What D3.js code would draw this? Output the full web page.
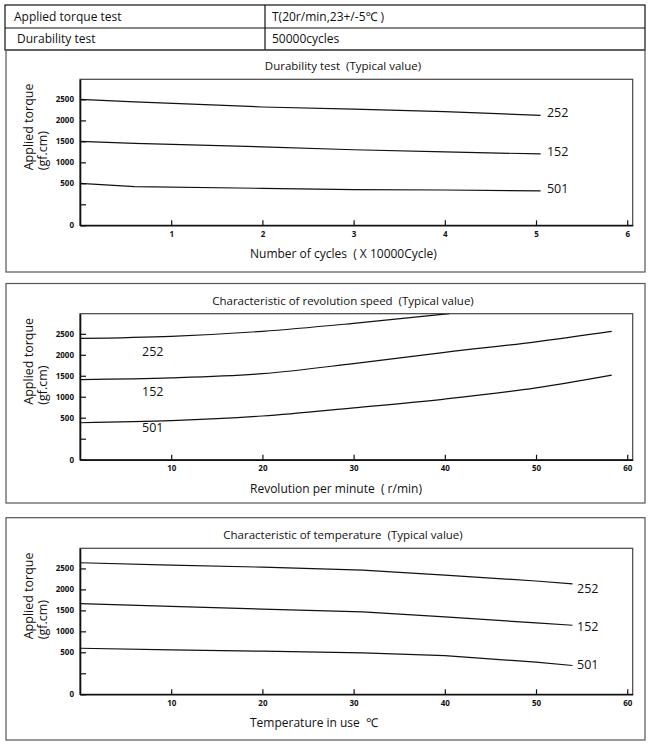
<!DOCTYPE html>
<html><head><meta charset="utf-8">
<script src="https://cdn.jsdelivr.net/npm/d3@7"></script>
<style>
body{margin:0;background:#fff;}
text{font-family:"Open Sans","Noto Sans",sans-serif;fill:#111;white-space:pre;}
</style></head><body>
<svg id="c" width="650" height="749"></svg>
<script>
// ---------- data ----------
const tableRows = [
  ["Applied torque test", "T(20r/min,23+/-5℃ )"],
  ["Durability test", "50000cycles"]
];
const seriesNames = ["252", "152", "501"];
const yTickValues = [0, 250, 500, 1000, 1500, 2000, 2500];
const yTickLabels = ["0", "", "500", "1000", "1500", "2000", "2500"];

// Chart 1: Durability test
const cyclesX = [0, 0.6, 2, 3, 4, 5.05];
const cycles252 = [2500, 2440, 2320, 2270, 2210, 2120];
const cycles152 = [1500, 1450, 1370, 1300, 1250, 1200];
const cycles501 = [500, 460, 440, 425, 420, 410];
const cyclesTicks = [1, 2, 3, 4, 5, 6];

// Chart 2: revolution speed
const rpmX252 = [0, 10, 20, 30, 40.5];
const rpm252 = [2390, 2440, 2560, 2750, 2980];
const rpmX = [0, 10, 20, 30, 40, 50, 58.3];
const rpm152 = [1410, 1450, 1550, 1790, 2060, 2310, 2560];
const rpm501 = [440, 465, 540, 735, 945, 1210, 1515];
const rpmTicks = [10, 20, 30, 40, 50, 60];
const rpmLabelX = [6.8, 6.8, 6.8];
const rpmLabelY = [2070, 1128, 382];

// Chart 3: temperature
const tempX = [0, 10, 20, 31, 40, 50, 54];
const temp252 = [2635, 2580, 2530, 2460, 2340, 2200, 2130];
const temp152 = [1660, 1595, 1530, 1465, 1345, 1200, 1145];
const temp501 = [597, 560, 527, 493, 460, 382, 343];
const tempTicks = [10, 20, 30, 40, 50, 60];
const tempLabelX = [54.5, 54.5, 54.5];
const tempLabelY = [2014, 1104, 355];

// ---------- drawing ----------
const svg = d3.select("#c");
const L = 5, R = 645;

// table
const tbl = svg.append("g");
const rowY = [5, 28, 50];
tbl.append("rect").attr("x", L).attr("y", 5).attr("width", R - L).attr("height", 45)
  .attr("fill", "none").attr("stroke", "#111").attr("stroke-width", 1.2);
tbl.append("line").attr("x1", L).attr("x2", R).attr("y1", 28).attr("y2", 28).attr("stroke", "#111").attr("stroke-width", 1.2);
tbl.append("line").attr("x1", 265).attr("x2", 265).attr("y1", 5).attr("y2", 50).attr("stroke", "#111").attr("stroke-width", 1.2);
tableRows.forEach((r, i) => {
  const cy = (rowY[i] + rowY[i + 1]) / 2 + 4;
  tbl.append("text").attr("x", i === 0 ? 14 : 17).attr("y", cy).attr("font-size", 12).text(r[0]);
  tbl.append("text").attr("x", 272).attr("y", cy).attr("font-size", 12).text(r[1]);
});

function drawChart(cfg) {
  const g = svg.append("g");
  // panel box
  g.append("rect").attr("x", L + 1).attr("y", cfg.panelTop).attr("width", R - L - 1)
    .attr("height", cfg.panelBottom - cfg.panelTop)
    .attr("fill", "none").attr("stroke", "#555").attr("stroke-width", 1.2);

  const left = 80, right = 632.7, top = cfg.top, bottom = cfg.top + 146;
  const x = d3.scaleLinear().domain([0, cfg.xMax]).range([left, right]);
  const y = d3.scaleLinear().domain([0, 500, 2980]).range([bottom, bottom - 42, top]);

  // title
  g.append("text").attr("x", 343).attr("y", top - 9).attr("text-anchor", "middle")
    .attr("font-size", 11.5).text(cfg.title);

  // plot frame
  g.append("rect").attr("x", left).attr("y", top).attr("width", right - left).attr("height", bottom - top)
    .attr("fill", "none").attr("stroke", "#444").attr("stroke-width", 1.2);

  const clipId = "clip" + cfg.id;
  g.append("clipPath").attr("id", clipId).append("rect")
    .attr("x", left).attr("y", top).attr("width", right - left).attr("height", bottom - top);

  // axes
  const xa = g.append("g").attr("transform", `translate(0,${bottom})`)
    .call(d3.axisBottom(x).tickValues(cfg.ticks).tickSizeInner(-5).tickSizeOuter(0).tickPadding(6)
      .tickFormat(d3.format("d")));
  xa.select(".domain").attr("stroke", "#111").attr("stroke-width", 1.6);
  xa.selectAll(".tick line").attr("stroke", "#111").attr("stroke-width", 1.2);
  xa.selectAll(".tick text").attr("font-size", 8).attr("font-weight", "bold").attr("fill", "#111")
    .attr("font-family", "'Open Sans',sans-serif");

  const ya = g.append("g").attr("transform", `translate(${left},0)`)
    .call(d3.axisLeft(y).tickValues(yTickValues).tickSizeInner(-6).tickSizeOuter(0).tickPadding(6)
      .tickFormat((d, i) => yTickLabels[i]));
  ya.select(".domain").attr("stroke", "#111").attr("stroke-width", 1.6);
  ya.selectAll(".tick line").attr("stroke", "#111").attr("stroke-width", 1.2);
  ya.selectAll(".tick text").attr("font-size", 8).attr("font-weight", "bold").attr("fill", "#111")
    .attr("font-family", "'Open Sans',sans-serif");

  // axis titles
  g.append("text").attr("transform", `translate(33,${top + 91}) rotate(-90)`)
    .attr("font-size", 12.5).text("Applied torque");
  g.append("text").attr("transform", `translate(47,${top + 91}) rotate(-90)`)
    .attr("font-size", 12.5).text("(gf.cm)");
  g.append("text").attr("x", 250).attr("y", bottom + 33).attr("font-size", 12).text(cfg.xTitle);

  // lines
  const line = d3.line().x(d => x(d[0])).y(d => y(d[1])).curve(cfg.curve);
  const lg = g.append("g").attr("clip-path", `url(#${clipId})`);
  cfg.series.forEach(s => {
    lg.append("path").datum(s.xs.map((v, i) => [v, s.ys[i]]))
      .attr("fill", "none").attr("stroke", "#111").attr("stroke-width", 1.2).attr("d", line);
  });
  // labels
  cfg.labels.forEach((lb, i) => {
    g.append("text").attr("x", x(lb[0])).attr("y", y(lb[1])).attr("dy", cfg.labelDy)
      .attr("font-size", 12.5).text(seriesNames[i]);
  });
}

drawChart({
  id: 1, panelTop: 50, panelBottom: 272, top: 79.3, xMax: 6.06, ticks: cyclesTicks,
  title: "Durability test  (Typical value)",
  xTitle: "Number of cycles  ( X 10000Cycle)",
  curve: d3.curveLinear, labelDy: "0.15em",
  series: [
    {xs: cyclesX, ys: cycles252}, {xs: cyclesX, ys: cycles152}, {xs: cyclesX, ys: cycles501}
  ],
  labels: [[5.12, cycles252[5]], [5.12, cycles152[5]], [5.12, cycles501[5]]]
});

drawChart({
  id: 2, panelTop: 283.5, panelBottom: 503, top: 313.7, xMax: 60.6, ticks: rpmTicks,
  title: "Characteristic of revolution speed  (Typical value)",
  xTitle: "Revolution per minute  ( r/min)",
  curve: d3.curveMonotoneX, labelDy: "0.35em",
  series: [
    {xs: rpmX252, ys: rpm252}, {xs: rpmX, ys: rpm152}, {xs: rpmX, ys: rpm501}
  ],
  labels: rpmLabelX.map((v, i) => [v, rpmLabelY[i]])
});

drawChart({
  id: 3, panelTop: 517.7, panelBottom: 740, top: 548.3, xMax: 60.6, ticks: tempTicks,
  title: "Characteristic of temperature  (Typical value)",
  xTitle: "Temperature in use  ℃",
  curve: d3.curveLinear, labelDy: "0.35em",
  series: [
    {xs: tempX, ys: temp252}, {xs: tempX, ys: temp152}, {xs: tempX, ys: temp501}
  ],
  labels: tempLabelX.map((v, i) => [v, tempLabelY[i]])
});
</script></body></html>
